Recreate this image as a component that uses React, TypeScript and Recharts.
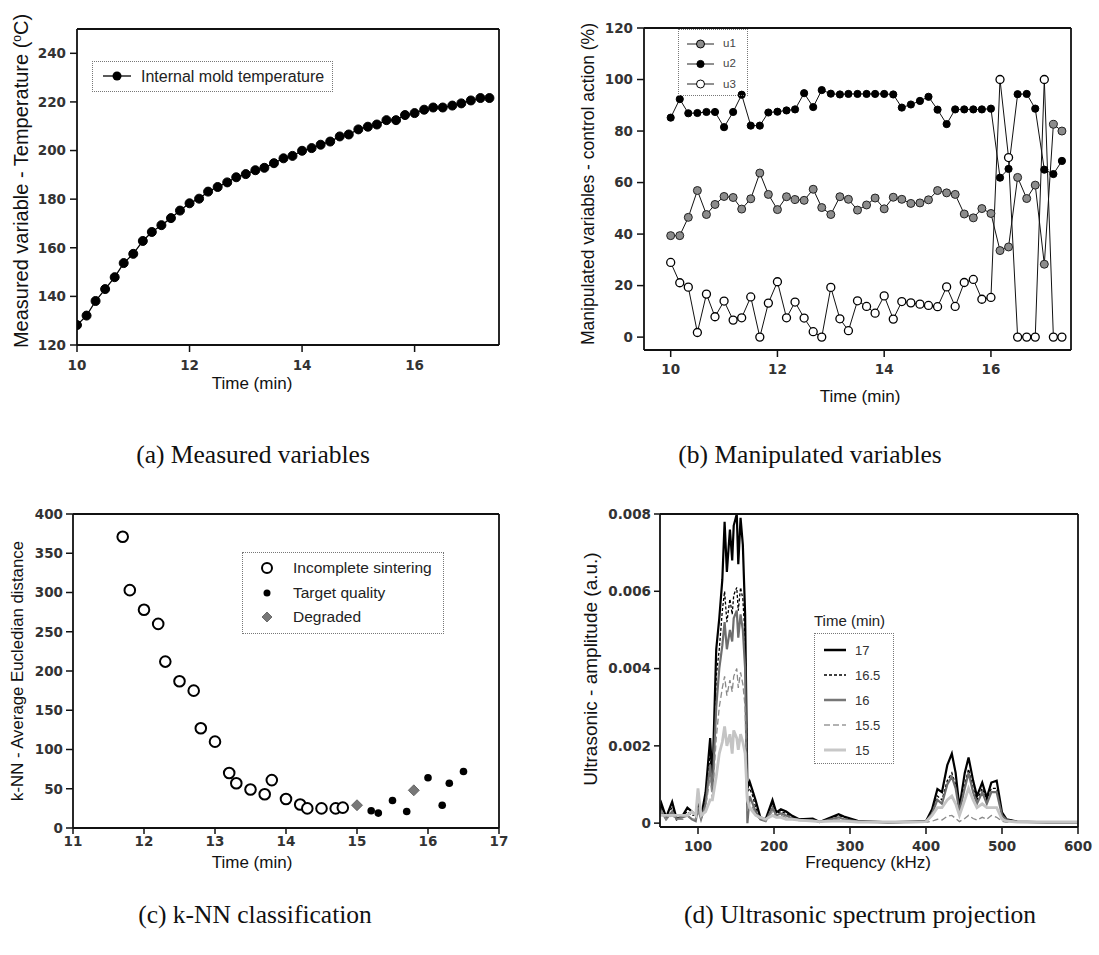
import React from 'react';
import { LineChart, Line, XAxis, YAxis, ScatterChart, Scatter } from 'recharts';

// sample times (min), shared by panels (a) and (b)
const TIME = [10.0, 10.17, 10.33, 10.5, 10.67, 10.83, 11.0, 11.17, 11.33, 11.5, 11.67, 11.83, 12.0, 12.17, 12.33, 12.5, 12.67, 12.83, 13.0, 13.17, 13.33, 13.5, 13.67, 13.83, 14.0, 14.17, 14.33, 14.5, 14.67, 14.83, 15.0, 15.17, 15.33, 15.5, 15.67, 15.83, 16.0, 16.17, 16.33, 16.5, 16.67, 16.83, 17.0, 17.17, 17.33];

// (a) internal mold temperature
const MOLD_TEMP = [128.2, 132.1, 138.1, 143, 147.9, 153.7, 157.5, 162.8, 166.5, 169.3, 172.2, 175.3, 178.3, 180.2, 183.1, 185, 186.9, 189, 190.3, 191.9, 192.9, 194.8, 196.8, 197.8, 199.9, 201, 202.4, 203.7, 205.8, 206.6, 208.7, 209.8, 210.7, 212.5, 212.5, 214.6, 215.4, 216.8, 217.7, 217.7, 218.5, 219.4, 220.6, 221.6, 221.6];

// (b) control actions
const U1 = [39.4, 39.4, 46.5, 56.9, 47.6, 51.5, 54.6, 54.2, 49.7, 53.7, 63.7, 55.4, 49.5, 54.5, 53.4, 53.1, 57.4, 50.3, 47.6, 54.5, 53.5, 49.3, 51.3, 54, 49.8, 54.3, 53.5, 51.9, 52.1, 53.3, 56.9, 56, 55.4, 47.8, 46.3, 49.9, 48, 33.6, 35, 62, 53.8, 59, 28.3, 82.6, 80];
const U2 = [85.2, 92.4, 86.9, 87, 87.4, 87.4, 81.5, 87.4, 94.1, 82.1, 82.1, 87.2, 87.5, 88, 88.4, 94.7, 89.3, 95.9, 94.5, 94.2, 94.4, 94.4, 94.4, 94.4, 94.4, 94.2, 89.1, 90.3, 91.7, 93.3, 88.3, 82.7, 88.4, 88.4, 88.4, 88.4, 88.7, 61.9, 65.3, 94.3, 94.4, 88.7, 65, 63.3, 68.4];
const U3 = [29, 21.1, 19.4, 1.8, 16.7, 7.9, 14, 6.6, 7.5, 15.6, 0, 13.2, 21.5, 7.5, 13.6, 7.4, 2.1, 0, 19.3, 7.1, 2.5, 14.1, 11.9, 9.3, 16, 7, 13.8, 13.3, 12.8, 12.3, 11.8, 19.5, 11.9, 21.2, 22.4, 14.7, 15.4, 100, 69.7, 0, 0, 0, 100, 0, 0];

// (c) k-NN classes
const INCOMPLETE_T = [11.7, 11.8, 12.0, 12.2, 12.3, 12.5, 12.7, 12.8, 13.0, 13.2, 13.3, 13.5, 13.7, 13.8, 14.0, 14.2, 14.3, 14.5, 14.7, 14.8];
const INCOMPLETE_D = [371, 303, 278, 260, 212, 187, 175, 127, 110, 70, 57, 49, 43, 61, 37, 30, 25, 25, 25, 26];
const TARGET_T = [15.2, 15.3, 15.5, 15.7, 16.0, 16.2, 16.3, 16.5];
const TARGET_D = [22, 19, 35, 21, 64, 29, 57, 72];
const DEGRADED_T = [15.0, 15.8];
const DEGRADED_D = [29, 48];

// (d) ultrasonic spectra
const FREQ = [50, 52, 58, 66, 72, 80, 86, 92, 97, 100, 104, 110, 116, 119, 124, 128, 132, 135, 138, 142, 145, 147, 151, 153, 156, 159, 162, 165, 168, 172, 176, 182, 189, 198, 203, 209, 216, 224, 233, 251, 260, 285, 292, 310, 350, 400, 408, 415, 421, 428, 434, 439, 444, 451, 456, 462, 467, 474, 480, 486, 493, 500, 506, 520, 560, 600];
const AMP_17 = [0.0003, 0.0005, 0.00015, 0.00055, 0.0001, 0.0002, 0.0004, 0.0003, 0.0002, 0.0006, 0.00015, 0.0008, 0.0022, 0.0011, 0.0045, 0.0053, 0.0063, 0.0078, 0.0065, 0.0076, 0.0068, 0.0077, 0.008, 0.0067, 0.0079, 0.0072, 0.0054, 0.0009, 0.00107, 0.00083, 0.00058, 0.00015, 0.0001, 0.0006, 0.00028, 0.00036, 0.0003, 0.00019, 0.0001, 0.00012, 0.00003, 0.00023, 0.00017, 0.00006, 0.00002, 0.00005, 0.00036, 0.00088, 0.0008, 0.0015, 0.0018, 0.0013, 0.0004, 0.0013, 0.0017, 0.0011, 0.0007, 0.00105, 0.00066, 0.00105, 0.0011, 0.00028, 0.0001, 0.00004, 0.00002, 0.00002];
const AMP_165 = [0.0003, 0.0004, 0.0002, 0.0004, 0.0001, 0.0002, 0.0003, 0.0002, 0.0002, 0.0005, 0.0001, 0.0006, 0.0018, 0.0009, 0.0038, 0.0045, 0.0055, 0.006, 0.0052, 0.0058, 0.0054, 0.0059, 0.0061, 0.0055, 0.0061, 0.0058, 0.0048, 0.0008, 0.0009, 0.0007, 0.0004, 0.00012, 0.0001, 0.0005, 0.00025, 0.0003, 0.00025, 0.00015, 0.0001, 0.0001, 0.00003, 0.0002, 0.00015, 0.00005, 0.00002, 0.00004, 0.0003, 0.0007, 0.0006, 0.0011, 0.0013, 0.001, 0.0003, 0.001, 0.0014, 0.0009, 0.0006, 0.0009, 0.0006, 0.0009, 0.0009, 0.00025, 0.0001, 0.00004, 0.00002, 0.00002];
const AMP_16 = [0.0002, 0.0003, 0.0001, 0.0003, 0.0001, 0.00015, 0.0002, 0.0001, 0.00005, 0.0004, 0.0001, 0.0005, 0.0015, 0.0008, 0.003, 0.004, 0.0046, 0.0052, 0.0045, 0.005, 0.0047, 0.0053, 0.0055, 0.0048, 0.0054, 0.005, 0.004, 0.0, 0.0007, 0.0005, 0.0003, 0.0001, 0.00005, 0.0004, 0.0002, 0.00025, 0.0002, 0.00012, 0.00008, 0.00008, 0.00003, 0.00015, 0.0001, 0.00004, 0.00002, 0.00003, 0.00025, 0.0006, 0.0005, 0.001, 0.0012, 0.0009, 0.0003, 0.0009, 0.0013, 0.0008, 0.0005, 0.0008, 0.0005, 0.0008, 0.0008, 0.0002, 0.00008, 0.00003, 0.00002, 0.00002];
const AMP_155 = [0.0002, 0.0003, 0.0001, 0.0002, 0.0001, 0.0001, 0.0002, 0.0001, 0.0001, 0.0003, 0.0001, 0.0004, 0.0012, 0.0006, 0.0022, 0.003, 0.0035, 0.0038, 0.0033, 0.0037, 0.0034, 0.0038, 0.004, 0.0035, 0.0039, 0.0036, 0.003, 0.0003, 0.0005, 0.0004, 0.0002, 0.0001, 0.00005, 0.0003, 0.00015, 0.0002, 0.00015, 0.0001, 0.00008, 0.00006, 0.00003, 0.0001, 0.00008, 0.00003, 0.00002, 0.00002, 0.00005, 0.0001, 0.00008, 0.00018, 0.0002, 0.00012, 0.00004, 0.00012, 0.0002, 0.00012, 0.00008, 0.00015, 0.0001, 0.0002, 0.00015, 0.00005, 0.00002, 0.00002, 0.00002, 0.00002];
const AMP_15 = [0.0002, 0.0002, 0.0002, 0.0002, 0.0002, 0.0002, 0.0002, 0.0003, 0.0002, 0.0009, 0.0002, 0.0003, 0.0006, 0.0006, 0.0012, 0.0018, 0.0021, 0.0025, 0.002, 0.0023, 0.0018, 0.0024, 0.0022, 0.0019, 0.0023, 0.0021, 0.0018, 0.0006, 0.0004, 0.0003, 0.0002, 0.00015, 0.0001, 0.0002, 0.00015, 0.00015, 0.0001, 0.0001, 0.00008, 0.00005, 0.00004, 0.00006, 0.00005, 0.00003, 0.00003, 0.00004, 0.0002, 0.0004, 0.0004, 0.0006, 0.0007, 0.0005, 0.0002, 0.0006, 0.0009, 0.0006, 0.0004, 0.0005, 0.0004, 0.0004, 0.0004, 0.0001, 0.00005, 0.00003, 0.00003, 0.00003];

const tickFont = { fill: '#333', fontSize: 13.5, fontWeight: 700, fontFamily: 'DejaVu Sans, sans-serif' };
const axisLine = { stroke: '#111', strokeWidth: 1.8 };
const tickLine = { stroke: '#111', strokeWidth: 1.5 };
const sans = 'Liberation Sans, Arial, sans-serif';
const serif = 'Liberation Serif, DejaVu Serif, serif';

const tempData = TIME.map((t, i) => ({ t, v: MOLD_TEMP[i] }));
const ctrlData = TIME.map((t, i) => ({ t, u1: U1[i], u2: U2[i], u3: U3[i] }));
const incompleteData = INCOMPLETE_T.map((x, i) => ({ x, y: INCOMPLETE_D[i] }));
const targetData = TARGET_T.map((x, i) => ({ x, y: TARGET_D[i] }));
const degradedData = DEGRADED_T.map((x, i) => ({ x, y: DEGRADED_D[i] }));
const specData = FREQ.map((f, i) => ({ f, a17: AMP_17[i], a165: AMP_165[i], a16: AMP_16[i], a155: AMP_155[i], a15: AMP_15[i] }));

const Abs: React.FC<{ x: number; y: number; children: React.ReactNode; style?: React.CSSProperties }> = ({ x, y, children, style }) => (
  <div style={{ position: 'absolute', left: x, top: y, ...style }}>{children}</div>
);

const Centered: React.FC<{ x: number; y: number; size: number; font?: string; rotate?: boolean; children: React.ReactNode }> = ({ x, y, size, font = sans, rotate, children }) => (
  <div
    style={{
      position: 'absolute',
      left: x,
      top: y,
      transform: `translate(-50%, -50%)${rotate ? ' rotate(-90deg)' : ''}`,
      whiteSpace: 'nowrap',
      fontFamily: font,
      fontSize: size,
      color: '#111',
      lineHeight: 1
    }}
  >
    {children}
  </div>
);

const boxStyle: React.CSSProperties = { position: 'absolute', border: '1px dotted #777', boxSizing: 'border-box' };
const noShape = () => <g />;

// the top and right axes only close the frame; they get 1px so recharts draws them
const PanelA = () => (
  <Abs x={0} y={0}>
    <LineChart width={520} height={400} data={tempData} margin={{ top: 28, right: 20, bottom: 25, left: 27 }}>
      <XAxis type="number" dataKey="t" domain={[10, 17.5]} ticks={[10, 12, 14, 16]} allowDataOverflow
        tick={tickFont} tickSize={7} tickMargin={8} axisLine={axisLine} tickLine={tickLine} height={30} />
      <XAxis xAxisId="top" orientation="top" type="number" dataKey="t" domain={[10, 17.5]} ticks={[10, 12, 14, 16]} allowDataOverflow
        tick={false} tickSize={7} axisLine={axisLine} tickLine={tickLine} height={1} />
      <YAxis type="number" domain={[120, 250]} ticks={[120, 140, 160, 180, 200, 220, 240]} allowDataOverflow
        tick={tickFont} tickSize={7} tickMargin={4} axisLine={axisLine} tickLine={tickLine} width={50} />
      <YAxis yAxisId="right" orientation="right" type="number" domain={[120, 250]} ticks={[120, 250]} allowDataOverflow
        tick={false} tickLine={false} axisLine={axisLine} width={1} />
      <Line xAxisId="top" yAxisId="right" dataKey="v" stroke="none" dot={false} activeDot={false} legendType="none" isAnimationActive={false} />
      <Line type="linear" dataKey="v" stroke="#000" strokeWidth={1.3} isAnimationActive={false}
        dot={{ r: 4.5, fill: '#000', stroke: '#000', strokeWidth: 1 }} />
    </LineChart>
  </Abs>
);

const PanelB = () => (
  <Abs x={540} y={0}>
    <LineChart width={559} height={400} data={ctrlData} margin={{ top: 27, right: 27, bottom: 22, left: 59 }}>
      <XAxis type="number" dataKey="t" domain={[9.5, 17.5]} ticks={[10, 12, 14, 16]} allowDataOverflow
        tick={tickFont} tickSize={7} tickMargin={7} axisLine={axisLine} tickLine={tickLine} height={28} />
      <XAxis xAxisId="top" orientation="top" type="number" dataKey="t" domain={[9.5, 17.5]} ticks={[10, 12, 14, 16]} allowDataOverflow
        tick={false} tickSize={7} axisLine={axisLine} tickLine={tickLine} height={1} />
      <YAxis type="number" domain={[-5, 120]} ticks={[0, 20, 40, 60, 80, 100, 120]} allowDataOverflow
        tick={tickFont} tickSize={7} tickMargin={4} axisLine={axisLine} tickLine={tickLine} width={45} />
      <YAxis yAxisId="right" orientation="right" type="number" domain={[-5, 120]} ticks={[0, 20, 40, 60, 80, 100, 120]} allowDataOverflow
        tick={false} tickSize={7} axisLine={axisLine} tickLine={tickLine} width={1} />
      <Line xAxisId="top" yAxisId="right" dataKey="u1" stroke="none" dot={false} activeDot={false} legendType="none" isAnimationActive={false} />
      <Line type="linear" dataKey="u1" stroke="#111" strokeWidth={1} isAnimationActive={false}
        dot={{ r: 4, fill: '#8c8c8c', stroke: '#222', strokeWidth: 1 }} />
      <Line type="linear" dataKey="u2" stroke="#111" strokeWidth={1} isAnimationActive={false}
        dot={{ r: 3.6, fill: '#000', stroke: '#000', strokeWidth: 1 }} />
      <Line type="linear" dataKey="u3" stroke="#111" strokeWidth={1} isAnimationActive={false}
        dot={{ r: 4, fill: '#fff', stroke: '#000', strokeWidth: 1.3 }} />
    </LineChart>
  </Abs>
);

const openCircle = (p: any) => <circle cx={p.cx} cy={p.cy} r={5.3} fill="#fff" stroke="#000" strokeWidth={2} />;
const dotShape = (p: any) => <circle cx={p.cx} cy={p.cy} r={3.8} fill="#000" />;
const diamond = (p: any) => (
  <polygon points={`${p.cx},${p.cy - 5.5} ${p.cx + 5.5},${p.cy} ${p.cx},${p.cy + 5.5} ${p.cx - 5.5},${p.cy}`} fill="#777" stroke="#555" strokeWidth={0.8} />
);

const PanelC = () => (
  <Abs x={0} y={480}>
    <ScatterChart width={520} height={400} margin={{ top: 33, right: 20, bottom: 22, left: 28 }}>
      <XAxis type="number" dataKey="x" domain={[11, 17]} ticks={[11, 12, 13, 14, 15, 16, 17]} allowDataOverflow
        tick={tickFont} tickSize={6} tickMargin={2} axisLine={axisLine} tickLine={tickLine} height={30} />
      <XAxis xAxisId="top" orientation="top" type="number" dataKey="x" domain={[11, 17]} ticks={[11, 12, 13, 14, 15, 16, 17]} allowDataOverflow
        tick={false} tickSize={8} axisLine={axisLine} tickLine={tickLine} height={1} />
      <YAxis type="number" dataKey="y" domain={[0, 400]} ticks={[0, 50, 100, 150, 200, 250, 300, 350, 400]} allowDataOverflow
        tick={tickFont} tickSize={7} tickMargin={3} axisLine={axisLine} tickLine={tickLine} width={45} />
      <YAxis yAxisId="right" orientation="right" type="number" dataKey="y" domain={[0, 400]} ticks={[0, 50, 100, 150, 200, 250, 300, 350, 400]} allowDataOverflow
        tick={false} tickSize={7} axisLine={axisLine} tickLine={tickLine} width={1} />
      <Scatter xAxisId="top" yAxisId="right" data={incompleteData} shape={noShape} legendType="none" isAnimationActive={false} />
      <Scatter data={incompleteData} shape={openCircle} isAnimationActive={false} />
      <Scatter data={targetData} shape={dotShape} isAnimationActive={false} />
      <Scatter data={degradedData} shape={diamond} isAnimationActive={false} />
    </ScatterChart>
  </Abs>
);

const PanelD = () => (
  <Abs x={540} y={480}>
    <LineChart width={559} height={400} data={specData} margin={{ top: 33, right: 20, bottom: 23, left: 65 }}>
      <XAxis type="number" dataKey="f" domain={[50, 600]} ticks={[100, 200, 300, 400, 500, 600]} allowDataOverflow
        tick={tickFont} tickSize={7} tickMargin={7} axisLine={axisLine} tickLine={tickLine} height={30} />
      <XAxis xAxisId="top" orientation="top" type="number" dataKey="f" domain={[50, 600]} ticks={[100, 200, 300, 400, 500, 600]} allowDataOverflow
        tick={false} tickSize={7} axisLine={axisLine} tickLine={tickLine} height={1} />
      <YAxis type="number" domain={[-0.0001, 0.008]} ticks={[0, 0.002, 0.004, 0.006, 0.008]} allowDataOverflow
        tick={tickFont} tickSize={6} tickMargin={3} axisLine={axisLine} tickLine={tickLine} width={55} />
      <YAxis yAxisId="right" orientation="right" type="number" domain={[-0.0001, 0.008]} ticks={[0, 0.002, 0.004, 0.006, 0.008]} allowDataOverflow
        tick={false} tickSize={6} axisLine={axisLine} tickLine={tickLine} width={1} />
      <Line xAxisId="top" yAxisId="right" dataKey="a17" stroke="none" dot={false} activeDot={false} legendType="none" isAnimationActive={false} />
      <Line type="linear" dataKey="a17" stroke="#000" strokeWidth={2.2} dot={false} isAnimationActive={false} />
      <Line type="linear" dataKey="a165" stroke="#000" strokeWidth={1.3} strokeDasharray="3 2" dot={false} isAnimationActive={false} />
      <Line type="linear" dataKey="a16" stroke="#6e6e6e" strokeWidth={2.2} dot={false} isAnimationActive={false} />
      <Line type="linear" dataKey="a155" stroke="#8a8a8a" strokeWidth={1.3} strokeDasharray="6 3" dot={false} isAnimationActive={false} />
      <Line type="linear" dataKey="a15" stroke="#c4c4c4" strokeWidth={2.8} dot={false} isAnimationActive={false} />
    </LineChart>
  </Abs>
);

const LegendLine: React.FC<{ w: number; stroke: string; sw: number; dash?: string; marker?: React.ReactNode }> = ({ w, stroke, sw, dash, marker }) => (
  <svg width={w} height={12} style={{ display: 'block' }}>
    <line x1={0} y1={6} x2={w} y2={6} stroke={stroke} strokeWidth={sw} strokeDasharray={dash} />
    {marker}
  </svg>
);

const LegendA = () => (
  <div style={{ ...boxStyle, left: 92, top: 61, width: 241, height: 31 }}>
    <Abs x={10} y={8}><LegendLine w={28} stroke="#000" sw={1.3} marker={<circle cx={14} cy={6} r={4.5} fill="#000" />} /></Abs>
    <Abs x={48} y={5.5} style={{ fontFamily: sans, fontSize: 16, color: '#222', whiteSpace: 'nowrap' }}>Internal mold temperature</Abs>
  </div>
);

const LegendB = () => {
  const rows = [
    { label: 'u1', fill: '#8c8c8c', r: 4 },
    { label: 'u2', fill: '#000', r: 3.6 },
    { label: 'u3', fill: '#fff', r: 4 }
  ];
  return (
    <div style={{ ...boxStyle, left: 678, top: 29, width: 70, height: 67 }}>
      {rows.map((row, i) => (
        <React.Fragment key={row.label}>
          <Abs x={8} y={7.7 + i * 20.3}>
            <LegendLine w={27} stroke="#222" sw={1} marker={<circle cx={13.5} cy={6} r={row.r} fill={row.fill} stroke="#000" strokeWidth={1} />} />
          </Abs>
          <Abs x={44} y={7 + i * 20.3} style={{ fontFamily: sans, fontSize: 11.5, color: '#444' }}>{row.label}</Abs>
        </React.Fragment>
      ))}
    </div>
  );
};

const LegendC = () => {
  const rows = [
    { label: 'Incomplete sintering', mark: <circle cx={7} cy={7} r={5} fill="#fff" stroke="#000" strokeWidth={2} /> },
    { label: 'Target quality', mark: <circle cx={7} cy={7} r={3.5} fill="#000" /> },
    { label: 'Degraded', mark: <polygon points="7,2 12,7 7,12 2,7" fill="#777" stroke="#555" strokeWidth={0.8} /> }
  ];
  return (
    <div style={{ ...boxStyle, left: 242, top: 552, width: 202, height: 82 }}>
      {rows.map((row, i) => (
        <React.Fragment key={row.label}>
          <Abs x={17} y={8 + i * 24.7}><svg width={14} height={14}>{row.mark}</svg></Abs>
          <Abs x={50} y={6 + i * 24.7} style={{ fontFamily: sans, fontSize: 15.5, color: '#222', whiteSpace: 'nowrap' }}>{row.label}</Abs>
        </React.Fragment>
      ))}
    </div>
  );
};

const LegendD = () => {
  const rows = [
    { label: '17', stroke: '#000', sw: 2.5 },
    { label: '16.5', stroke: '#000', sw: 1.4, dash: '3 2' },
    { label: '16', stroke: '#777', sw: 2.5 },
    { label: '15.5', stroke: '#999', sw: 1.3, dash: '6 3' },
    { label: '15', stroke: '#c8c8c8', sw: 3 }
  ];
  return (
    <>
      <Abs x={814} y={612} style={{ fontFamily: sans, fontSize: 15, color: '#222', whiteSpace: 'nowrap' }}>Time (min)</Abs>
      <div style={{ ...boxStyle, left: 814, top: 633, width: 80, height: 131 }}>
        {rows.map((row, i) => (
          <React.Fragment key={row.label}>
            <Abs x={9} y={10 + i * 25.1}><LegendLine w={22} stroke={row.stroke} sw={row.sw} dash={row.dash} /></Abs>
            <Abs x={40} y={8.5 + i * 25.1} style={{ fontFamily: sans, fontSize: 13, color: '#333' }}>{row.label}</Abs>
          </React.Fragment>
        ))}
      </div>
    </>
  );
};

export default function App() {
  return (
    <div style={{ position: 'absolute', left: 0, top: 0, width: 1099, height: 955, background: '#fff', overflow: 'hidden' }}>
      <PanelA />
      <PanelB />
      <PanelC />
      <PanelD />
      <LegendA />
      <LegendB />
      <LegendC />
      <LegendD />

      <Centered x={21} y={181} size={20} rotate>Measured variable - Temperature (<sup style={{ fontSize: 12 }}>o</sup>C)</Centered>
      <Centered x={252} y={383} size={17}>Time (min)</Centered>
      <Centered x={253} y={455} size={25.5} font={serif}>(a) Measured variables</Centered>

      <Centered x={589} y={184} size={17.5} rotate>Manipulated variables - control action (%)</Centered>
      <Centered x={860} y={396} size={17}>Time (min)</Centered>
      <Centered x={810} y={455} size={25.5} font={serif}>(b) Manipulated variables</Centered>

      <Centered x={18} y={671} size={16.8} rotate>k-NN - Average Eucledian distance</Centered>
      <Centered x={252} y={862} size={17}>Time (min)</Centered>
      <Centered x={255} y={915} size={25.5} font={serif}>(c) k-NN classification</Centered>

      <Centered x={590} y={669} size={19} rotate>Ultrasonic - amplitude (a.u.)</Centered>
      <Centered x={868} y={862} size={17}>Frequency (kHz)</Centered>
      <Centered x={860} y={915} size={25.5} font={serif}>(d) Ultrasonic spectrum projection</Centered>
    </div>
  );
}
